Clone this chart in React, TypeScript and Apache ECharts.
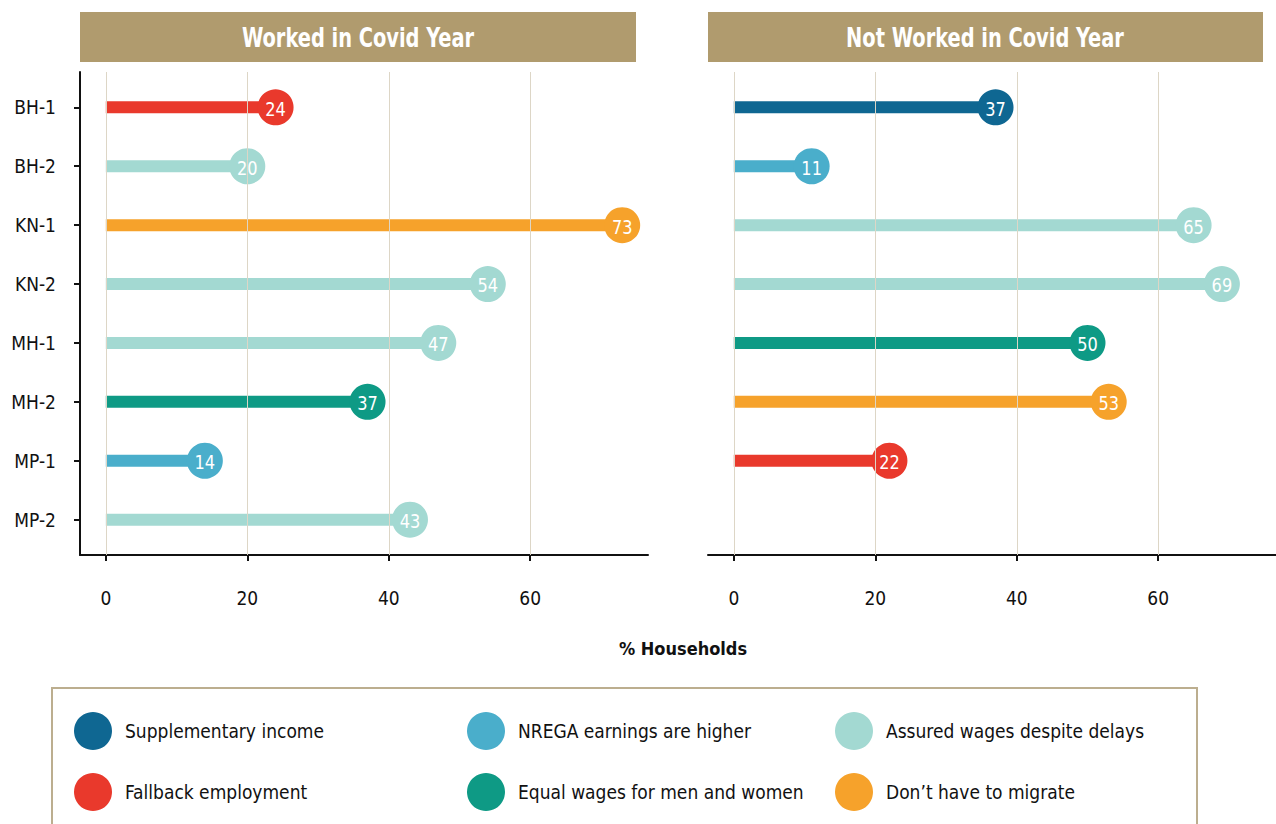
import React, { useEffect, useRef } from "react";
import * as echarts from "echarts";

const rows = ["BH-1", "BH-2", "KN-1", "KN-2", "MH-1", "MH-2", "MP-1", "MP-2"];
const xTicks = [0, 20, 40, 60];
const panelTitles = ["Worked in Covid Year", "Not Worked in Covid Year"];

const reasons = [
  "Supplementary income",
  "NREGA earnings are higher",
  "Assured wages despite delays",
  "Fallback employment",
  "Equal wages for men and women",
  "Don’t have to migrate",
];
const reasonColors = ["#0f6792", "#4aaecb", "#a3d9d2", "#e9392c", "#0e9a85", "#f6a22b"];

// value and reason (index into reasons) per row, null = no data
const workedValues = [24, 20, 73, 54, 47, 37, 14, 43];
const workedReason = [3, 2, 5, 2, 2, 4, 1, 2];
const notWorkedValues: (number | null)[] = [37, 11, 65, 69, 50, 53, 22, null];
const notWorkedReason: (number | null)[] = [0, 1, 2, 2, 4, 5, 3, null];

const FONT = '"Liberation Sans Narrow", "DejaVu Sans Condensed", "Roboto Condensed", "Noto Sans", sans-serif';

export default function App() {
  const ref = useRef<HTMLDivElement>(null);

  useEffect(() => {
    if (!ref.current) return;
    const chart = echarts.init(ref.current, null, { renderer: "svg" });

    const renderItem = (color: string) => (params: any, api: any) => {
      const v = api.value(0);
      const r = api.value(1);
      const p0 = api.coord([0, r]);
      const p1 = api.coord([v, r]);
      return {
        type: "group",
        children: [
          {
            type: "line",
            shape: { x1: p0[0], y1: p0[1], x2: p1[0], y2: p1[1] },
            style: { stroke: color, lineWidth: 12, lineCap: "butt" },
          },
          { type: "circle", shape: { cx: p1[0], cy: p1[1], r: 18 }, style: { fill: color } },
          {
            type: "text",
            x: p1[0],
            y: p1[1] + 1,
            scaleX: 0.9,
            style: {
              text: String(v),
              fill: "#ffffff",
              align: "center",
              verticalAlign: "middle",
              fontSize: 20,
              fontFamily: FONT,
            },
          },
        ],
      };
    };

    const series: any[] = [];
    const panels = [
      { values: workedValues, reason: workedReason },
      { values: notWorkedValues, reason: notWorkedReason },
    ];
    panels.forEach((p, pi) => {
      // grid lines
      series.push({
        type: "custom",
        xAxisIndex: pi,
        yAxisIndex: pi,
        silent: true,
        data: [],
        renderItem: () => null,
        markLine: {
          silent: true,
          symbol: "none",
          label: { show: false },
          lineStyle: { color: "#ddd6c6", width: 1, type: "solid" },
          data: xTicks.map((t) => ({ xAxis: t })),
        },
      });
      reasons.forEach((name, ri) => {
        const data: number[][] = [];
        p.values.forEach((v, i) => {
          if (v !== null && p.reason[i] === ri) data.push([v, i + 1]);
        });
        series.push({
          type: "custom",
          name,
          xAxisIndex: pi,
          yAxisIndex: pi,
          itemStyle: { color: reasonColors[ri] },
          renderItem: renderItem(reasonColors[ri]),
          data,
        });
      });
    });

    const xAxisBase = (gi: number) => ({
      type: "value",
      gridIndex: gi,
      min: -3.65,
      max: 76.65,
      splitLine: { show: false },
      axisLine: { show: true, onZero: false, lineStyle: { color: "#111", width: 2 } },
      axisTick: { show: true, customValues: xTicks, length: 6, lineStyle: { color: "#111", width: 2 } },
      axisLabel: {
        customValues: xTicks,
        margin: 33,
        fontSize: 19,
        color: "#111",
        fontFamily: FONT,
      },
    });

    const legendCol = (left: number, data: string[]) => ({
      left,
      top: 712,
      orient: "vertical",
      padding: 0,
      itemGap: 23,
      itemWidth: 38,
      itemHeight: 38,
      icon: "circle",
      selectedMode: false,
      data,
      textStyle: { fontSize: 19, color: "#111", fontFamily: FONT, padding: [0, 0, 0, 8] },
    });

    const headerText = (x: number, text: string) => ({
      type: "text",
      x,
      y: 38,
      scaleX: 0.83,
      style: {
        text,
        fill: "#ffffff",
        align: "center",
        verticalAlign: "middle",
        fontSize: 26,
        fontWeight: "bold",
        fontFamily: FONT,
      },
    });

    chart.setOption({
      animation: false,
      backgroundColor: "#ffffff",
      grid: [
        { left: 80, top: 72, width: 568, height: 483 },
        { left: 708, top: 72, width: 568, height: 483 },
      ],
      xAxis: [xAxisBase(0), xAxisBase(1)],
      yAxis: [
        {
          type: "value",
          gridIndex: 0,
          min: 0.4,
          max: 8.6,
          inverse: true,
          splitLine: { show: false },
          axisLine: { show: true, onZero: false, lineStyle: { color: "#111", width: 2 } },
          axisTick: {
            show: true,
            customValues: rows.map((_, i) => i + 1),
            length: 6,
            lineStyle: { color: "#111", width: 2 },
          },
          axisLabel: {
            customValues: rows.map((_, i) => i + 1),
            formatter: (v: number) => rows[Math.round(v) - 1] ?? "",
            margin: 24,
            fontSize: 19,
            color: "#111",
            fontFamily: FONT,
          },
        },
        {
          type: "value",
          gridIndex: 1,
          min: 0.4,
          max: 8.6,
          inverse: true,
          splitLine: { show: false },
          axisLine: { show: false, onZero: false },
          axisTick: { show: false },
          axisLabel: { show: false },
        },
      ],
      legend: [
        legendCol(74, [reasons[0], reasons[3]]),
        legendCol(467, [reasons[1], reasons[4]]),
        legendCol(835, [reasons[2], reasons[5]]),
      ],
      graphic: [
        {
          type: "rect",
          shape: { x: 80, y: 12, width: 556, height: 50 },
          style: { fill: "#b09b6e" },
        },
        headerText(358, panelTitles[0]),
        {
          type: "rect",
          shape: { x: 708, y: 12, width: 555, height: 50 },
          style: { fill: "#b09b6e" },
        },
        headerText(985, panelTitles[1]),
        {
          type: "text",
          x: 683,
          y: 648,
          style: {
            text: "% Households",
            fill: "#111",
            align: "center",
            verticalAlign: "middle",
            fontSize: 18,
            fontWeight: "bold",
            fontFamily: FONT,
          },
        },
        {
          type: "rect",
          shape: { x: 52, y: 688, width: 1145, height: 150 },
          style: { fill: "none", stroke: "#bcae8f", lineWidth: 2 },
        },
      ],
      series,
    });

    return () => chart.dispose();
  }, []);

  return (
    <div
      ref={ref}
      style={{ position: "absolute", left: 0, top: 0, width: 1276, height: 824, background: "#fff" }}
    />
  );
}
